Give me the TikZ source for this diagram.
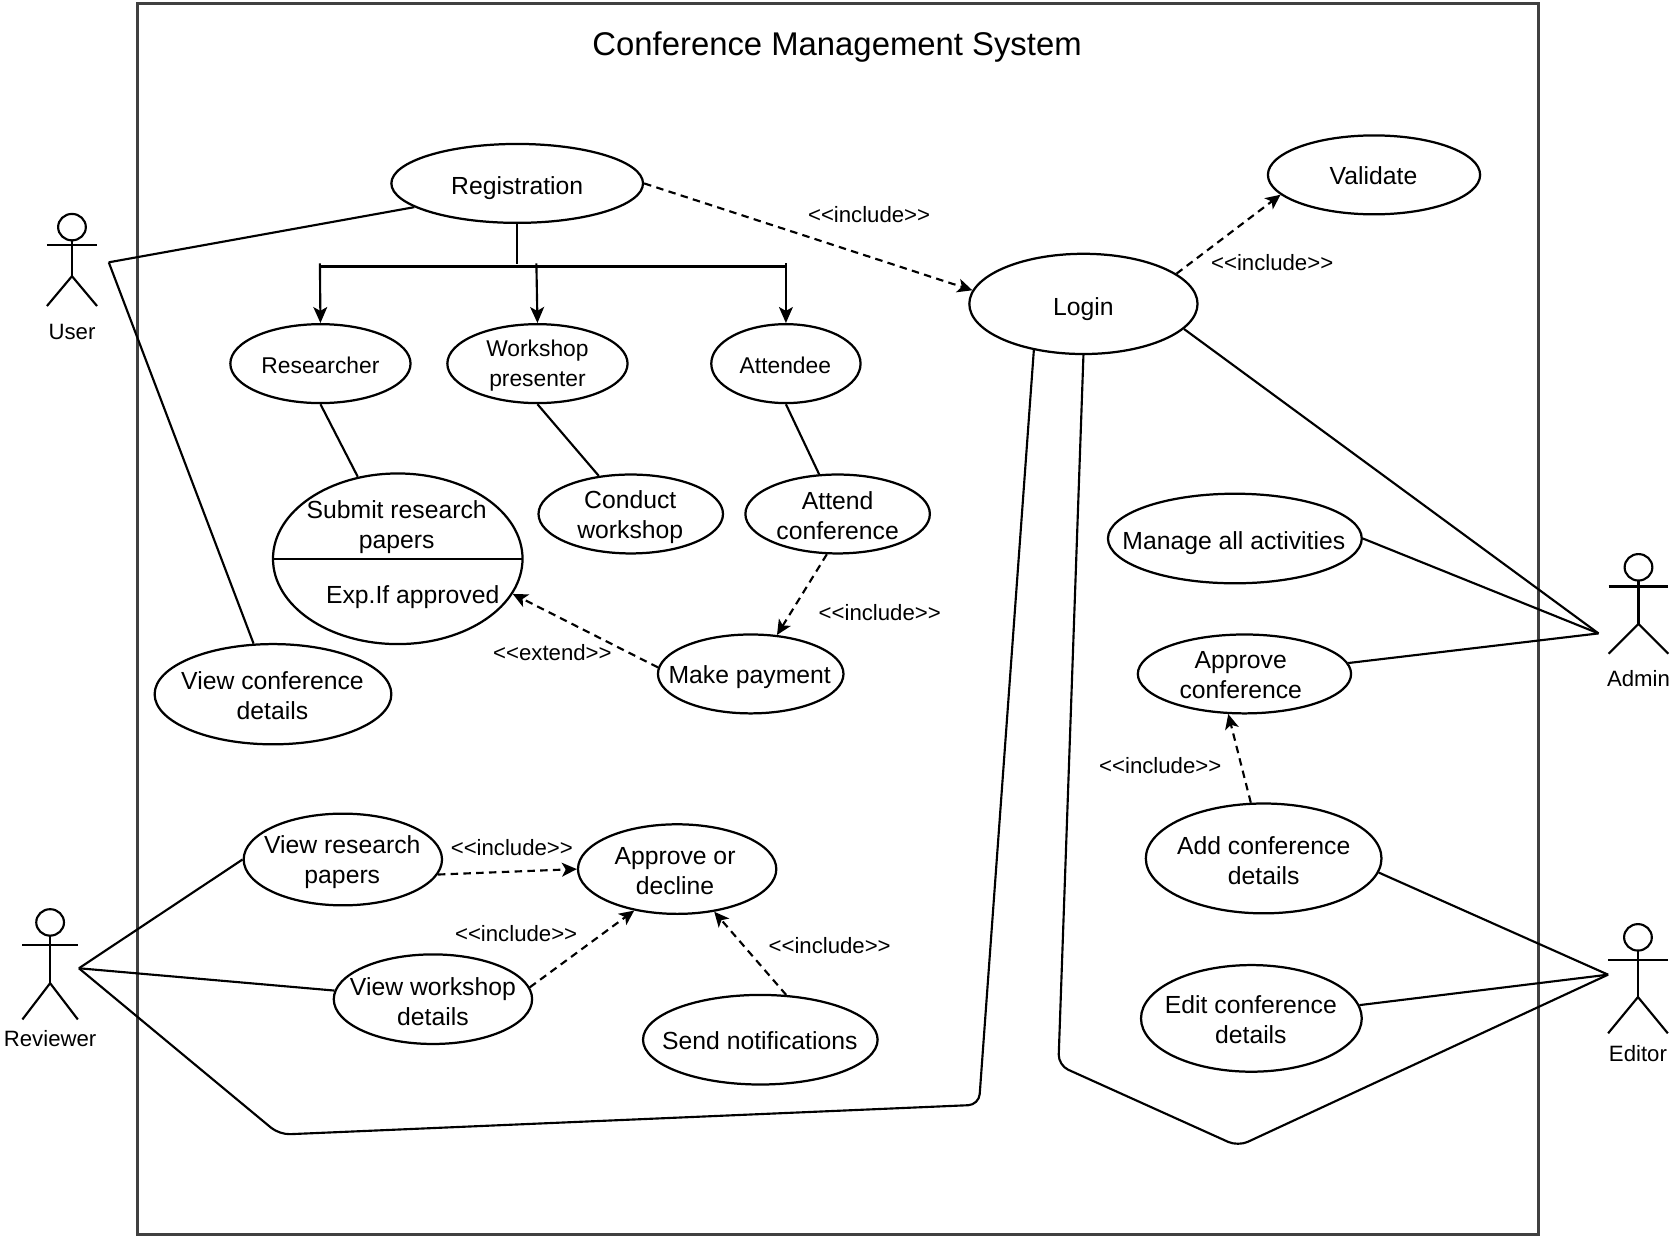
\documentclass[tikz,border=0pt]{standalone}
\usepackage{fontspec}
\setmainfont{Liberation Sans}
\usetikzlibrary{shapes.geometric,arrows.meta}
\newcommand{\inc}{{<}{<}include{>}{>}}
% name, x, y, w, h, text x, text y, style, text
\newcommand{\usecase}[9]{%
  \node[ucshape, minimum width=#4*0.5pt, minimum height=#5*0.5pt] (#1) at (#2,#3) {};
  \node[#8] (#1t) at (#6,#7) {#9};}
\newcommand{\actor}[9]{%
  % name, cx, head y, arm y, hip y, foot y, half width, label y, text
  \draw[actorline] (#2,#3) ellipse[x radius=6.5pt, y radius=6.2pt];
  \draw[actorline] (#2-#7,#4) -- (#2+#7,#4);
  \draw[actorline] (#2,#3+12.4) -- (#2,#5);
  \draw[actorline] (#2-#7,#6) -- (#2,#5) -- (#2+#7,#6);
  \node[small] (#1) at (#2,#8) {#9};}
\tikzset{
  x=0.5pt, y=-0.5pt,
  ucshape/.style={ellipse, draw=black, line width=1.05pt, inner sep=0pt, fill=white},
  big/.style={align=center, inner sep=0pt, font=\fontsize{11.6}{14}\selectfont},
  mid/.style={align=center, inner sep=0pt, font=\fontsize{10.7}{14}\selectfont},
  small/.style={align=center, inner sep=0pt, font=\fontsize{10.4}{14}\selectfont},
  actorline/.style={line width=1pt, draw=black},
  link/.style={line width=1pt, draw=black},
  route/.style={link, rounded corners=5pt},
  gen/.style={link, -{Stealth[length=7.5pt,width=6.5pt,inset=1.8pt]}},
  dep/.style={link, dashed, dash pattern=on 3.5pt off 2.5pt, -{Stealth[length=7pt,width=6.5pt,inset=1.8pt]}},
}
\begin{document}
\begin{tikzpicture}
\useasboundingbox (0,0) rectangle (1567,1159);
\draw[line width=1.35pt, draw=black!75] (129,3.5) rectangle (1443,1157.5);
\node[inner sep=0pt, font=\fontsize{15.4}{18}\selectfont] (title) at (785,44) {Conference Management System};

\actor{user}{67.5}{213}{230}{259}{287}{23.5}{311}{User}
\actor{reviewer}{47}{865}{886}{922}{956}{26}{974}{Reviewer}
\actor{admin}{1536.5}{532}{550}{585}{613}{28}{636}{Admin}
\actor{editor}{1536}{879}{900.5}{935}{969}{28}{988}{Editor}

\coordinate (userpt) at (102,246);
\coordinate (revpt) at (74,908);
\coordinate (adminpt) at (1499,594);
\coordinate (editorpt) at (1508,914);
\coordinate (busl) at (300,250);
\coordinate (busr) at (737,250);
\coordinate (busa) at (300,247);
\coordinate (busb) at (503,247);
\coordinate (busc) at (737,247);
\coordinate (stem) at (485,248);
\coordinate (sla) at (256,524);
\coordinate (slb) at (490,524);

\usecase{reg}{485}{172}{236}{74}{485}{176}{big}{Registration}
\usecase{login}{1016}{285}{214}{94}{1016}{289.5}{big}{Login}
\usecase{validate}{1288.5}{164}{199}{74}{1288}{165}{big}{Validate}
\usecase{researcher}{300.5}{341}{169}{74}{300.5}{343}{mid}{Researcher}
\usecase{workshop}{504}{341}{169}{74}{504}{343}{mid}{Workshop\\presenter}
\usecase{attendee}{737}{341}{140}{74}{736.5}{343}{mid}{Attendee}
\usecase{submit}{373}{524}{234}{160}{372}{494}{big}{Submit research\\papers}
\node[big] (expif) at (387,560) {Exp.If approved};
\usecase{conduct}{591.5}{482}{173}{74}{591}{485}{big}{Conduct\\workshop}
\usecase{attend}{785.5}{482}{173}{74}{785.5}{483.5}{big}{Attend\\conference}
\usecase{makepay}{704}{632}{174}{74}{703}{635}{big}{Make payment}
\usecase{viewconf}{256}{651}{222}{94}{255.5}{652}{big}{View conference\\details}
\usecase{viewres}{321.5}{806}{186}{86}{321}{808.5}{big}{View research\\papers}
\usecase{viewwork}{406}{937}{186}{84}{406}{939}{big}{View workshop\\details}
\usecase{appdec}{635}{815}{186}{84}{633}{817}{big}{Approve or\\decline}
\usecase{send}{713}{975}{220}{84}{712.5}{976}{big}{Send notifications}
\usecase{manage}{1158}{505}{238}{84}{1157}{509}{big}{Manage all activities}
\usecase{appconf}{1167}{632}{200}{74}{1163.5}{633}{big}{Approve\\conference}
\usecase{add}{1185}{805}{221}{103}{1185}{807}{big}{Add conference\\details}
\usecase{edit}{1173.5}{955}{207}{100}{1173}{956}{big}{Edit conference\\details}

\draw[link] (sla) -- (slb);

\draw[link] (userpt) -- (reg.193);
\draw[link] (userpt) -- (viewconf.111);
\draw[link] (reg.south) -- (stem);
\draw[link, line width=1.1pt] (busl) -- (busr);
\draw[gen] (busa) -- (researcher.north);
\draw[gen] (busb) -- (workshop.north);
\draw[gen] (busc) -- (attendee.north);
\draw[link] (researcher.south) -- (submit.116.5);
\draw[link] (workshop.south) -- (conduct.130);
\draw[link] (attendee.south) -- (attend.115);
\draw[dep] (attend.255.6) -- (makepay.56);
\draw[dep] (makepay.176) -- (submit.343.5);
\draw[dep] (reg.east) -- (login.173);
\draw[dep] (login.18) -- (validate.192);
\draw[link] (login.346.5) -- (adminpt);
\draw[link] (manage.east) -- (adminpt);
\draw[link] (appconf.6.4) -- (adminpt);
\draw[dep] (add.103.5) -- (appconf.248.5);
\draw[link] (add.353.3) -- (editorpt);
\draw[link] (edit.7.3) -- (editorpt);
\draw[route] (login.south) -- (992.5,999) -- (1161,1075) -- (editorpt);
\draw[route] (login.223) -- (918,1036) -- (262,1064) -- (revpt);
\draw[link] (revpt) -- (viewres.west);
\draw[link] (revpt) -- (viewwork.175);
\draw[dep] (viewres.351) -- (appdec.west);
\draw[dep] (viewwork.7) -- (appdec.224);
\draw[dep] (send.60) -- (appdec.311);

\node[small] (l1) at (815,201) {\inc};
\node[small] (l2) at (1193,246) {\inc};
\node[small] (l3) at (825,574) {\inc};
\node[small] (l4) at (1088,718) {\inc};
\node[small] (l5) at (480,795) {\inc};
\node[small] (l6) at (484,875) {\inc};
\node[small] (l7) at (778,887) {\inc};
\node[small] (l8) at (518,612) {{<}{<}extend{>}{>}};
\end{tikzpicture}
\end{document}
